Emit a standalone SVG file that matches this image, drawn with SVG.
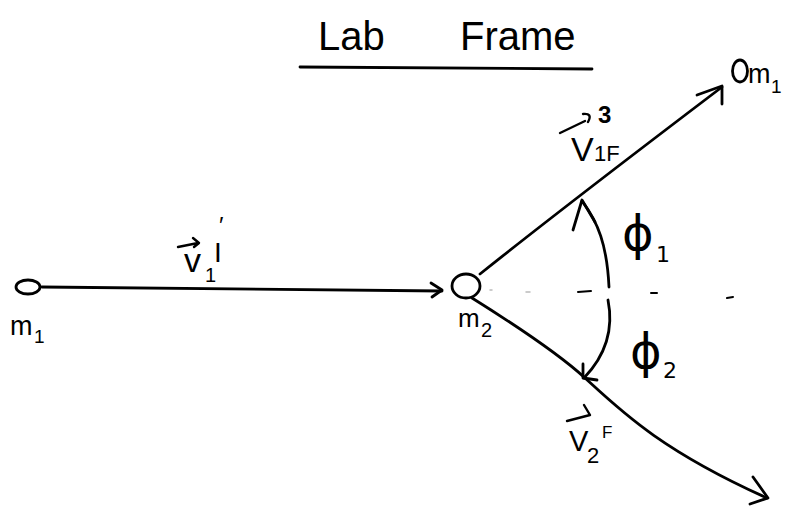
<svg xmlns="http://www.w3.org/2000/svg" width="791" height="510" viewBox="0 0 791 510">
<style>
.ink{fill:none;stroke:#000;stroke-width:2.8;stroke-linecap:round;stroke-linejoin:round}
.thin{fill:none;stroke:#000;stroke-width:2.4;stroke-linecap:round;stroke-linejoin:round}
.dash{fill:none;stroke:#000;stroke-width:2;stroke-linecap:round}
.faint{fill:none;stroke:#bbb;stroke-width:1.5;stroke-linecap:round}
.t{font-family:"Liberation Sans",Arial,sans-serif;fill:#000}
.phi{font-family:"DejaVu Sans",sans-serif;fill:#000}
</style>
<rect width="791" height="510" fill="#fff"/>
<g id="title">
<text class="t" x="318" y="50" font-size="40">Lab <tspan x="460">Frame</tspan></text>
<path class="ink" d="M300,67 L592,69" stroke-width="3"/>
</g>
<g id="node-m1">
<ellipse class="ink" cx="28" cy="287" rx="12" ry="7"/>
<text class="t" x="10" y="335" font-size="27">m<tspan x="34" y="343" font-size="19">1</tspan></text>
</g>
<g id="node-m2">
<ellipse class="ink" cx="466" cy="286" rx="14" ry="12"/>
<text class="t" x="458" y="327" font-size="26">m<tspan x="481" y="337" font-size="20">2</tspan></text>
</g>
<g id="node-m1-final">
<ellipse class="ink" cx="740" cy="71" rx="7.5" ry="11"/>
<text class="t" x="748" y="83" font-size="27">m<tspan x="771" y="93" font-size="19">1</tspan></text>
</g>
<g id="connectors">
<path class="ink" d="M42,287 L442,291"/>
<path class="ink" d="M431,283 L442,290 L432,297"/>
<path class="ink" d="M480,274 Q560,210 722,87"/>
<path class="ink" d="M697,95 L722,86 L722,104" stroke-width="3.2"/>
<path class="ink" d="M472,298 C520,328 560,355 585,378 C620,410 660,450 767,498"/>
<path class="ink" d="M753,477 L768,498 L750,504"/>
<path class="ink" d="M582,201 C598,222 607,245 609,287"/>
<path class="ink" d="M573,230 L582,200 L595,222" stroke-width="3.2"/>
<path class="ink" d="M608,300 C614,330 606,355 584,378"/>
<path class="ink" d="M583,364 L583,378 L597,380"/>
<path class="dash" d="M578,292 L591,291"/>
<path class="dash" d="M651,293 L657,293"/>
<path class="dash" d="M727,298 L733,297"/>
<path class="faint" d="M526,292 L530,292 M490,290 L492,290"/>
</g>
<g id="label-v1I">
<path class="thin" d="M178,247 L198,243 M193,238 L199,243 L194,247"/>
<text class="t" x="184" y="272" font-size="34">v<tspan x="205" y="282" font-size="20">1</tspan><tspan x="214" y="262" font-size="28">I</tspan><tspan x="219" y="234" font-size="24">′</tspan></text>
</g>
<g id="label-v1F">
<path class="thin" d="M560,133 L585,121 M583,114 Q593,113 588,122" stroke-width="2.8"/>
<text class="t" x="571" y="161" font-size="34">V<tspan x="594" y="161" font-size="22">1F</tspan><tspan x="598" y="123" font-size="24" font-weight="bold">3</tspan></text>
</g>
<g id="label-phi1">
<text class="phi" x="622" y="250" font-size="48">ϕ<tspan x="656" y="262" font-size="22">1</tspan></text>
</g>
<g id="label-phi2">
<text class="phi" x="630" y="368" font-size="48">ϕ<tspan x="663" y="378" font-size="22">2</tspan></text>
</g>
<g id="label-v2F">
<path class="thin" d="M567,421 L590,415 L584,405"/>
<text class="t" x="569" y="451" font-size="29">V<tspan x="587" y="463" font-size="22">2</tspan><tspan x="602" y="438" font-size="17">F</tspan></text>
</g>
</svg>
